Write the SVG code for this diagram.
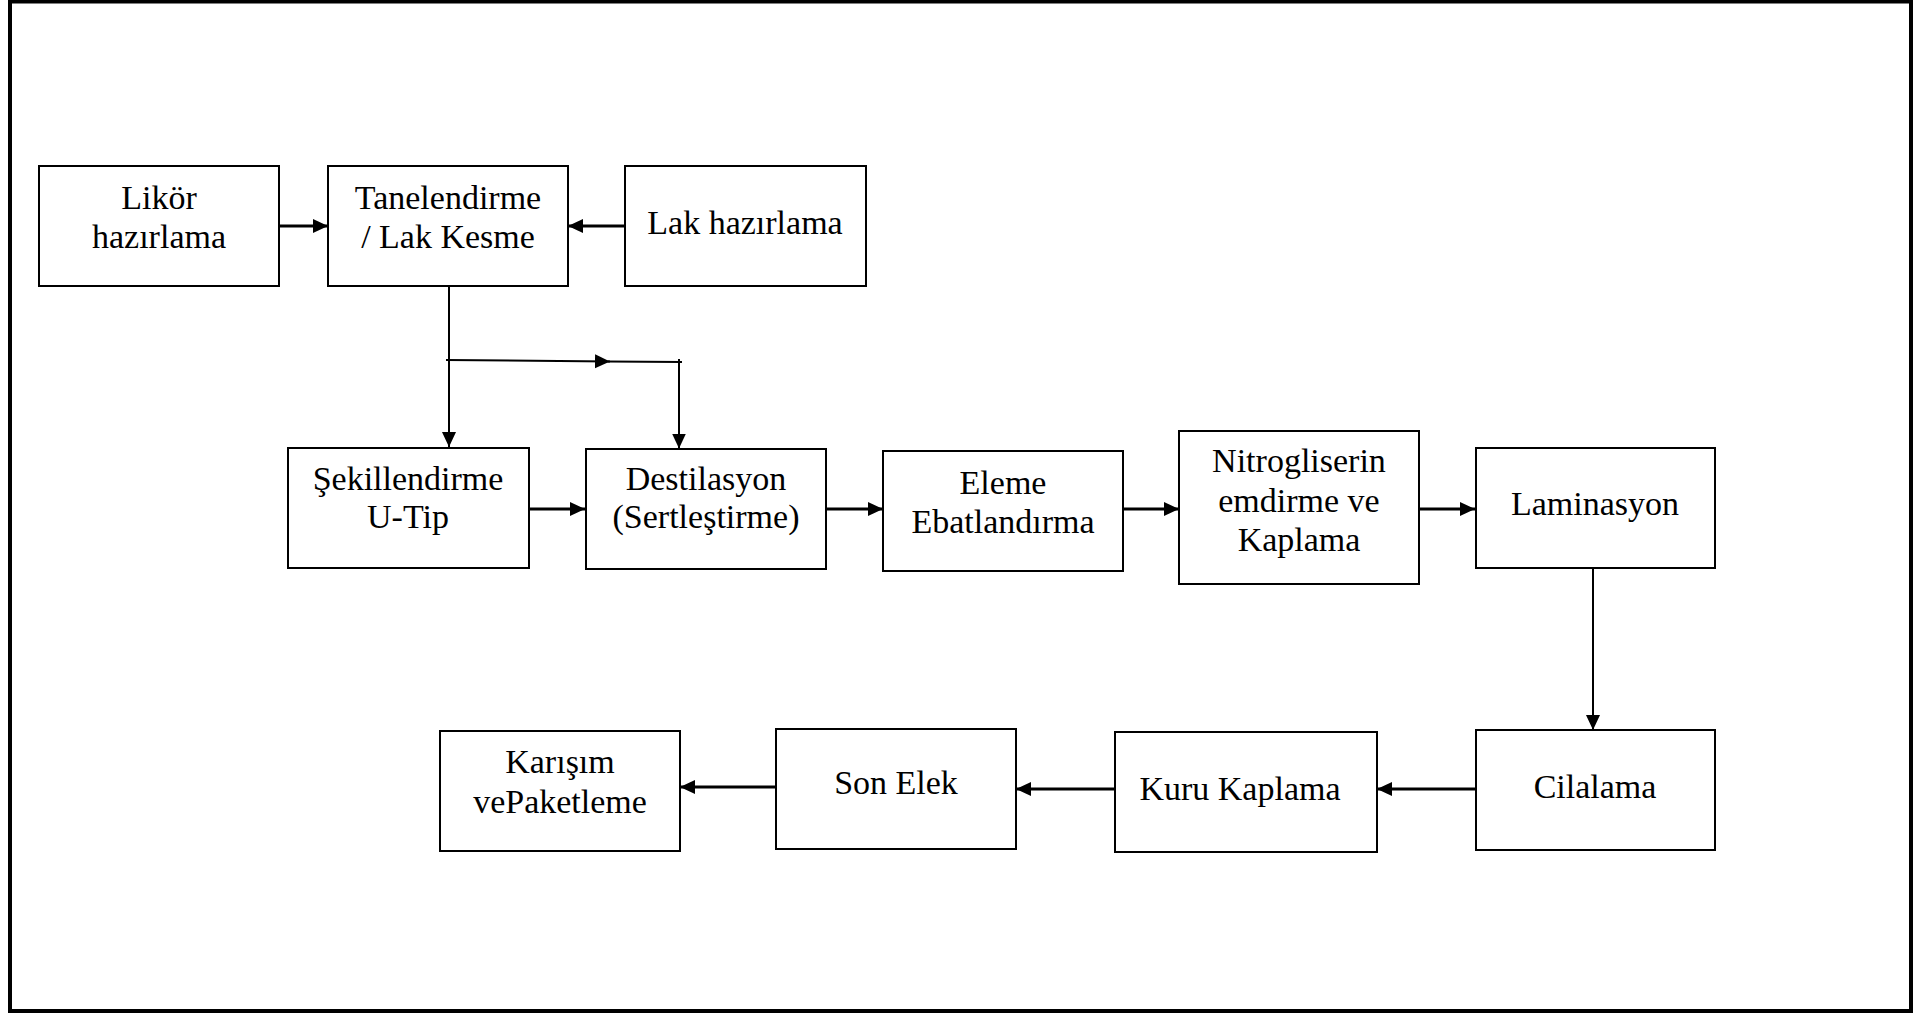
<svg xmlns="http://www.w3.org/2000/svg" width="1926" height="1013" viewBox="0 0 1926 1013">
<style>
.box{fill:#fff;stroke:#000;stroke-width:2}
.t{font-family:"Liberation Serif","Times New Roman",serif;font-size:34px;fill:#000;text-anchor:middle}
.c{fill:none;stroke:#000;stroke-width:3}
.thin{fill:none;stroke:#000;stroke-width:2}
</style>
<defs>
<marker id="ah" markerUnits="userSpaceOnUse" markerWidth="16" markerHeight="15" refX="15" refY="7" orient="auto" viewBox="0 0 16 15">
<path d="M0,0 L15,7 L0,14 z" fill="#000"/>
</marker>
</defs>
<rect x="0" y="0" width="1926" height="1013" fill="#fff"/>
<rect x="10" y="1.5" width="1901" height="1009.5" fill="none" stroke="#000" stroke-width="4"/>

<g id="connectors">
<path class="c" d="M280,226 L328,226" marker-end="url(#ah)"/>
<path class="c" d="M625,226 L568,226" marker-end="url(#ah)"/>
<path class="thin" d="M449,287 L449,447" marker-end="url(#ah)"/>
<path class="thin" d="M446,360 L610,361.5" marker-end="url(#ah)"/>
<path class="thin" d="M608,361.5 L682,362"/>
<path class="thin" d="M679,359 L679,448.5" marker-end="url(#ah)"/>
<path class="c" d="M529,509 L585,509" marker-end="url(#ah)"/>
<path class="c" d="M826,509 L883,509" marker-end="url(#ah)"/>
<path class="c" d="M1123,509 L1179,509" marker-end="url(#ah)"/>
<path class="c" d="M1419,509 L1475,509" marker-end="url(#ah)"/>
<path class="thin" d="M1593,568 L1593,730" marker-end="url(#ah)"/>
<path class="c" d="M1475,789 L1377,789" marker-end="url(#ah)"/>
<path class="c" d="M1115,789 L1016,789" marker-end="url(#ah)"/>
<path class="c" d="M779,787 L680,787" marker-end="url(#ah)"/>
</g>

<g id="likor">
<rect class="box" x="39" y="166" width="240" height="120"/>
<text class="t" x="159" y="209">Likör</text>
<text class="t" x="159" y="248">hazırlama</text>
</g>
<g id="tanelendirme">
<rect class="box" x="328" y="166" width="240" height="120"/>
<text class="t" x="448" y="209">Tanelendirme</text>
<text class="t" x="448" y="248">/ Lak Kesme</text>
</g>
<g id="lak">
<rect class="box" x="625" y="166" width="241" height="120"/>
<text class="t" x="745" y="234">Lak hazırlama</text>
</g>
<g id="sekillendirme">
<rect class="box" x="288" y="448" width="241" height="120"/>
<text class="t" x="408" y="490">Şekillendirme</text>
<text class="t" x="408" y="528">U-Tip</text>
</g>
<g id="destilasyon">
<rect class="box" x="586" y="449" width="240" height="120"/>
<text class="t" x="706" y="490">Destilasyon</text>
<text class="t" x="706" y="528">(Sertleştirme)</text>
</g>
<g id="eleme">
<rect class="box" x="883" y="451" width="240" height="120"/>
<text class="t" x="1003" y="494">Eleme</text>
<text class="t" x="1003" y="533">Ebatlandırma</text>
</g>
<g id="nitrogliserin">
<rect class="box" x="1179" y="431" width="240" height="153"/>
<text class="t" x="1299" y="472">Nitrogliserin</text>
<text class="t" x="1299" y="512">emdirme ve</text>
<text class="t" x="1299" y="551">Kaplama</text>
</g>
<g id="laminasyon">
<rect class="box" x="1476" y="448" width="239" height="120"/>
<text class="t" x="1595" y="515">Laminasyon</text>
</g>
<g id="cilalama">
<rect class="box" x="1476" y="730" width="239" height="120"/>
<text class="t" x="1595" y="798">Cilalama</text>
</g>
<g id="kuru">
<rect class="box" x="1115" y="732" width="262" height="120"/>
<text class="t" x="1240" y="800">Kuru Kaplama</text>
</g>
<g id="sonelek">
<rect class="box" x="776" y="729" width="240" height="120"/>
<text class="t" x="896" y="794">Son Elek</text>
</g>
<g id="karisim">
<rect class="box" x="440" y="731" width="240" height="120"/>
<text class="t" x="560" y="773">Karışım</text>
<text class="t" x="560" y="813">vePaketleme</text>
</g>
</svg>
